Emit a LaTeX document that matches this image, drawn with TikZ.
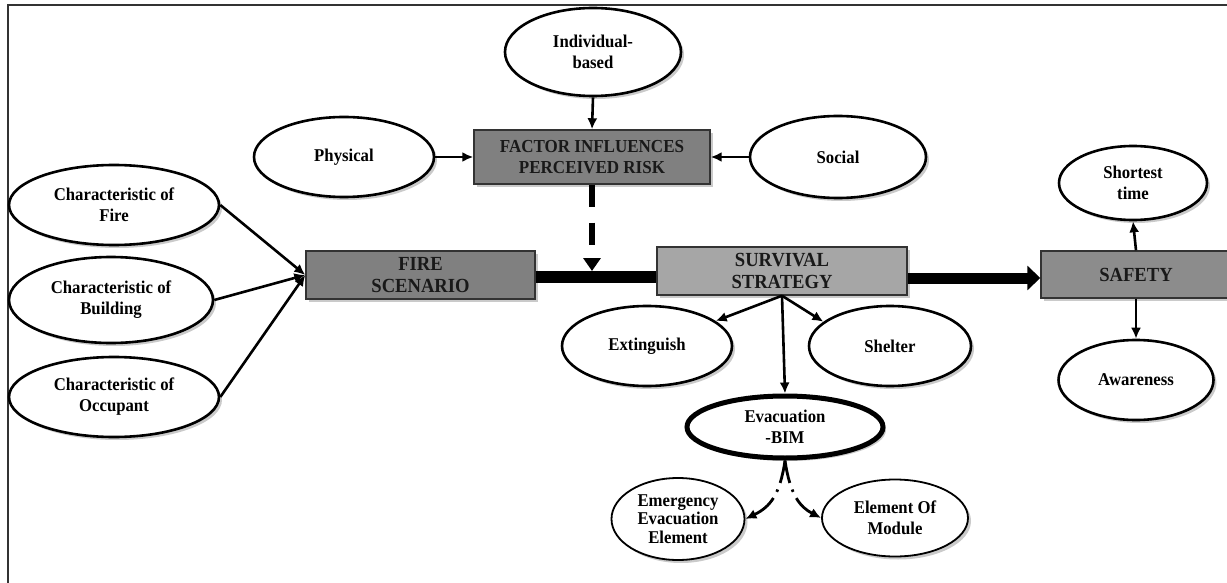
\documentclass[tikz,border=0pt]{standalone}
\usepackage{fontspec}
\setmainfont{Liberation Serif}[FakeStretch=0.93]
\usetikzlibrary{arrows.meta,shapes.geometric,shadows}
\begin{document}
\begin{tikzpicture}[x=1pt,y=-1pt,
  shad/.style={drop shadow={shadow xshift=3pt,shadow yshift=-3pt,opacity=0.35,fill=black!60}},
  ell/.style={ellipse,draw=black,line width=2.6pt,fill=white,inner sep=0pt,align=center,
    font=\fontsize{18}{21}\selectfont\bfseries,shad},
  box/.style={rectangle,draw=black!80,line width=1.4pt,inner sep=0pt,align=center,
    font=\fontsize{20}{21.5}\selectfont\bfseries,text=black!90,shad},
  thinarr/.style={line width=2.6pt,-{Latex[length=11pt,width=10pt]}},
  evdash/.style={line width=2.8pt,dash pattern=on 23pt off 7pt on 2.5pt off 7pt on 60pt,-{Latex[length=11pt,width=10pt]}},
]
\useasboundingbox (0,0) rectangle (1227,583);
\clip (0,0) rectangle (1227,583);
% frame
\draw[line width=2pt,black!80] (8,590) -- (8,5) -- (1230,5);

% top cluster
\node[ell,minimum width=176pt,minimum height=88pt] (indiv) at (593,52) {Individual-\\based};
\node[ell,minimum width=180pt,minimum height=80pt] (phys) at (344,157) {Physical};
\node[ell,minimum width=176pt,minimum height=82pt] (social) at (838,157) {Social};
\node[box,fill=black!50,minimum width=236pt,minimum height=54pt,font=\fontsize{18.3}{20.5}\selectfont\bfseries] (factor) at (592,157) {FACTOR INFLUENCES\\PERCEIVED RISK};

% left characteristics
\node[ell,minimum width=210pt,minimum height=80pt] (cfire) at (114,205) {Characteristic of\\Fire};
\node[ell,minimum width=204pt,minimum height=86pt] (cbuild) at (111,300) {Characteristic of\\Building};
\node[ell,minimum width=210pt,minimum height=80pt] (cocc) at (114,397) {Characteristic of\\Occupant};

% main boxes
\node[box,fill=black!50,minimum width=229pt,minimum height=48pt] (fire) at (420.5,275) {FIRE\\SCENARIO};
\node[box,fill=black!35,minimum width=250pt,minimum height=48pt] (surv) at (782,271) {SURVIVAL\\STRATEGY};
\node[box,fill=black!45,minimum width=190pt,minimum height=47pt] (safety) at (1136,274.5) {SAFETY};

% strategies
\node[ell,minimum width=170pt,minimum height=80pt] (ext) at (647,346) {Extinguish};
\node[ell,minimum width=162pt,minimum height=80pt] (shel) at (890,346) {Shelter};
\node[ell,line width=5pt,minimum width=196pt,minimum height=62pt] (evac) at (785,427) {Evacuation\\-BIM};
\node[ell,line width=1.8pt,minimum width=133pt,minimum height=82pt,font=\fontsize{18}{18.5}\selectfont\bfseries] (emerg) at (678,519) {Emergency\\Evacuation\\Element};
\node[ell,line width=1.8pt,minimum width=146pt,minimum height=77pt] (module) at (895,518) {Element Of\\Module};

% safety outcomes
\node[ell,minimum width=148pt,minimum height=74pt] (short) at (1133,183) {Shortest\\time};
\node[ell,minimum width=155pt,minimum height=80pt] (aware) at (1136,380) {Awareness};

% connectors: factors
\draw[thinarr] (indiv.south) -- (factor.north);
\draw[thinarr] (phys.east) -- (factor.west);
\draw[thinarr] (social.west) -- (factor.east);
\draw[thinarr] (cfire.east) -- (fire.west);
\draw[thinarr] (cbuild.east) -- (fire.west);
\draw[thinarr] (cocc.east) -- (fire.west);

% thick main flow
\coordinate (flowA) at (0,277);
\coordinate (flowB) at (0,278);
\draw[line width=12pt] (fire.east |- flowA) -- (surv.west |- flowA);
\draw[line width=11pt,-{Triangle[length=13pt,width=24pt]}] (surv.east |- flowB) -- (safety.west |- flowB);

% dashed influence
\coordinate (dashend) at (0,271);
\draw[line width=6pt,dash pattern=on 22pt off 16pt,-{Triangle[length=13pt,width=17pt]}] (factor.south) -- (factor.south |- dashend);

% survival branches
\draw[thinarr] (surv.south) -- (ext.20);
\draw[thinarr] (surv.south) -- (shel.160);
\draw[thinarr] (surv.south) -- (evac.north);

% evacuation branches
\draw[evdash] (evac.south) .. controls (780,495) and (770,507) .. (emerg.east);
\draw[evdash] (evac.south) .. controls (790,495) and (800,507) .. (module.west);

% safety branches
\draw[thinarr] (safety.north) -- (short.south);
\draw[thinarr] (safety.south) -- (aware.north);
\end{tikzpicture}
\end{document}
